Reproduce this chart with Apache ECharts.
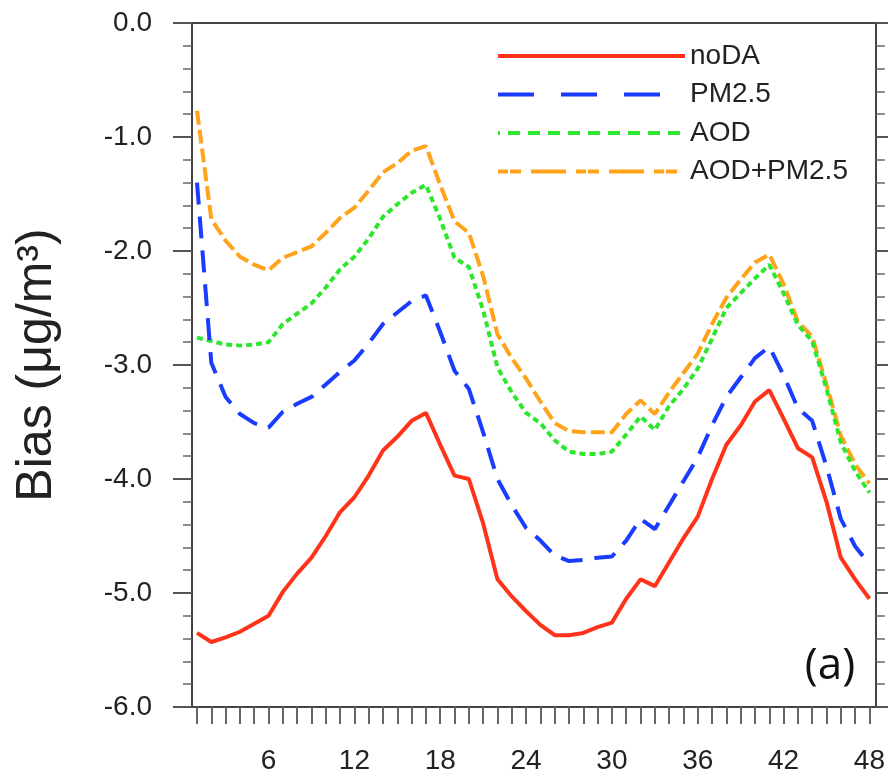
<!DOCTYPE html>
<html><head><meta charset="utf-8">
<script src="https://cdn.jsdelivr.net/npm/echarts@6/dist/echarts.min.js"></script>
<style>html,body{margin:0;padding:0;background:#fff}#c{width:888px;height:775px}</style>
</head><body><div id="c"></div>
<script>
const hours = [1,2,3,4,5,6,7,8,9,10,11,12,13,14,15,16,17,18,19,20,21,22,23,24,25,26,27,28,29,30,31,32,33,34,35,36,37,38,39,40,41,42,43,44,45,46,47,48];
const noDA = [-5.35,-5.43,-5.39,-5.34,-5.27,-5.20,-4.99,-4.83,-4.69,-4.50,-4.29,-4.16,-3.97,-3.75,-3.63,-3.49,-3.42,-3.70,-3.97,-4.00,-4.39,-4.88,-5.03,-5.16,
              -5.28,-5.37,-5.37,-5.35,-5.30,-5.26,-5.05,-4.88,-4.94,-4.73,-4.52,-4.33,-4.00,-3.70,-3.53,-3.32,-3.22,-3.47,-3.73,-3.81,-4.20,-4.69,-4.88,-5.05];
const pm25 = [-1.40,-2.98,-3.28,-3.43,-3.51,-3.55,-3.41,-3.34,-3.28,-3.17,-3.06,-2.96,-2.81,-2.64,-2.54,-2.44,-2.39,-2.71,-3.05,-3.21,-3.59,-4.00,-4.23,-4.43,
              -4.54,-4.67,-4.72,-4.71,-4.69,-4.68,-4.54,-4.35,-4.44,-4.23,-4.02,-3.81,-3.53,-3.28,-3.11,-2.94,-2.84,-3.09,-3.38,-3.49,-3.89,-4.35,-4.59,-4.75];
const aod = [-2.76,-2.79,-2.82,-2.83,-2.82,-2.80,-2.64,-2.55,-2.46,-2.32,-2.16,-2.05,-1.89,-1.70,-1.59,-1.49,-1.42,-1.72,-2.06,-2.14,-2.52,-3.02,-3.24,-3.42,
             -3.51,-3.66,-3.76,-3.78,-3.78,-3.76,-3.61,-3.45,-3.57,-3.36,-3.21,-3.03,-2.77,-2.50,-2.37,-2.24,-2.12,-2.37,-2.65,-2.79,-3.21,-3.68,-3.93,-4.12];
const aodPm25 = [-0.77,-1.72,-1.91,-2.05,-2.12,-2.17,-2.06,-2.01,-1.96,-1.84,-1.71,-1.62,-1.47,-1.31,-1.23,-1.12,-1.08,-1.42,-1.74,-1.84,-2.22,-2.73,-2.94,-3.12,
                 -3.32,-3.51,-3.58,-3.59,-3.59,-3.59,-3.43,-3.31,-3.43,-3.24,-3.07,-2.90,-2.64,-2.41,-2.25,-2.10,-2.03,-2.29,-2.62,-2.75,-3.17,-3.62,-3.87,-4.04];
const xTickLabels = [6,12,18,24,30,36,42,48];
const seriesNames = ['noDA','PM2.5','AOD','AOD+PM2.5'];
const seriesValues = [noDA, pm25, aod, aodPm25];
const yAxisName = 'Bias (\u03bcg/m\u00b3)';
const panelLabel = '(a)';

const colors = ['#ff3319','#1a3cff','#2ee62e','#ffa31a'];
const chartDash = ['solid',[22,12],[6,4],[14,5]];
const legendDash = ['solid',[36,27],[12,8],[10,2,11,10,35,10]];
const legendDashOffset = [0,0,10,0];
const FONT = "'Liberation Sans', Arial, Helvetica, sans-serif";

const chart = echarts.init(document.getElementById('c'), null, {renderer:'canvas'});
const xMin = 0.65, xMax = 48.45;
const minorXTicks = hours.slice();

chart.setOption({
  animation:false,
  backgroundColor:'#fff',
  grid:{left:192, top:23, width:684.5, height:684, containLabel:false},
  legend:{
    orient:'vertical', left:491, top:37,
    itemWidth:187, itemHeight:14, itemGap:10.5, itemTextGap:8,
    textStyle:{fontSize:28, lineHeight:28, color:'#222', fontFamily:FONT},
    data: seriesNames.map((n,i)=>({
      name:n,
      itemStyle:{opacity:0},
      lineStyle:{width:4, color:colors[i], type:legendDash[i], dashOffset:legendDashOffset[i]}
    }))
  },
  xAxis:[{
    type:'value', min:xMin, max:xMax, position:'bottom',
    axisLine:{show:true, onZero:false, lineStyle:{color:'#444', width:2}},
    axisTick:{show:true, customValues:minorXTicks, length:17, lineStyle:{color:'#666', width:2}},
    axisLabel:{customValues:xTickLabels, margin:40, fontSize:28, color:'#222', fontFamily:FONT},
    splitLine:{show:false}
  },{
    type:'value', min:xMin, max:xMax, position:'top',
    axisLine:{show:true, onZero:false, lineStyle:{color:'#444', width:2}},
    axisTick:{show:false}, axisLabel:{show:false}, splitLine:{show:false}
  }],
  yAxis:[{
    type:'value', min:-6, max:0, interval:1, position:'left',
    name:yAxisName, nameLocation:'middle', nameGap:130,
    nameTextStyle:{fontSize:50, color:'#222', fontFamily:FONT},
    axisLine:{show:true, onZero:false, lineStyle:{color:'#444', width:2}},
    axisTick:{show:true, length:19, lineStyle:{color:'#555', width:2}},
    minorTick:{show:true, splitNumber:5, length:9, lineStyle:{color:'#666', width:1.5}},
    axisLabel:{margin:40, fontSize:28, color:'#222', fontFamily:FONT, formatter:v=>v.toFixed(1)},
    splitLine:{show:false}
  },{
    type:'value', min:-6, max:0, interval:1, position:'right',
    axisLine:{show:true, onZero:false, lineStyle:{color:'#444', width:2}},
    axisTick:{show:true, length:19, lineStyle:{color:'#555', width:2}},
    minorTick:{show:true, splitNumber:5, length:9, lineStyle:{color:'#666', width:1.5}},
    axisLabel:{show:false}, splitLine:{show:false}
  }],
  series: seriesNames.map((n,i)=>({
    name:n, type:'line', xAxisIndex:0, yAxisIndex:0,
    symbol:'none', smooth:false,
    data: hours.map((h,k)=>[h, seriesValues[i][k]]),
    lineStyle:{color:colors[i], width:4, type:chartDash[i]},
    itemStyle:{color:colors[i]},
    z: 10 - i
  })),
  graphic:[{
    type:'text', x:830, y:666,
    style:{text:panelLabel, font:"44px 'Open Sans', sans-serif", fill:'#111', align:'center', verticalAlign:'middle'}
  }]
});
</script></body></html>
